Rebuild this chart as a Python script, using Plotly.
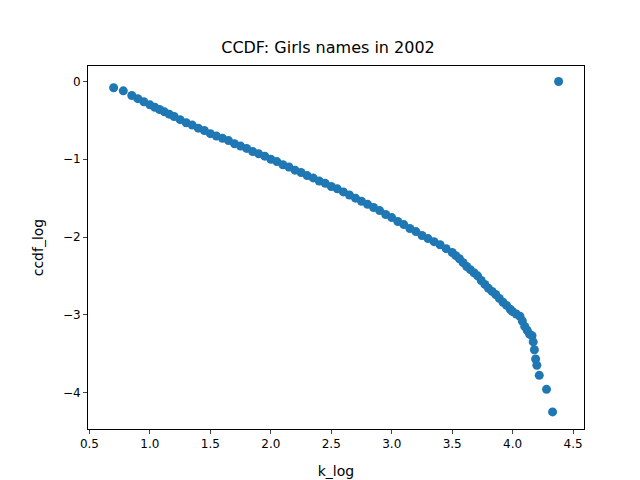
import plotly.graph_objects as go

# values
k_log = [0.70, 0.78, 0.85, 0.90, 0.95, 1.00, 1.04, 1.08, 1.12, 1.16, 1.20, 1.25, 1.30,
         1.35, 1.40, 1.45, 1.50, 1.55, 1.60, 1.65, 1.70, 1.75, 1.80, 1.85, 1.90, 1.95,
         2.00, 2.05, 2.10, 2.15, 2.20, 2.25, 2.30, 2.35, 2.40, 2.45, 2.50, 2.55, 2.60,
         2.65, 2.70, 2.75, 2.80, 2.85, 2.90, 2.95, 3.00, 3.05, 3.10, 3.15, 3.20, 3.25,
         3.30, 3.35, 3.40, 3.45, 3.50, 3.53, 3.56, 3.59, 3.62, 3.65, 3.68, 3.71, 3.74,
         3.77, 3.80, 3.83, 3.86, 3.89, 3.92, 3.95, 3.98, 4.00, 4.03, 4.06, 4.08, 4.10,
         4.12, 4.14, 4.16, 4.17, 4.18, 4.19, 4.20, 4.22, 4.28, 4.33, 4.38]
ccdf_log = [-0.08, -0.12, -0.18, -0.22, -0.26, -0.30, -0.33, -0.36, -0.39, -0.42, -0.45,
            -0.49, -0.53, -0.56, -0.60, -0.63, -0.67, -0.70, -0.73, -0.76, -0.80, -0.83,
            -0.86, -0.90, -0.93, -0.96, -1.00, -1.03, -1.07, -1.10, -1.14, -1.17, -1.21,
            -1.24, -1.28, -1.31, -1.35, -1.38, -1.42, -1.46, -1.50, -1.54, -1.58, -1.62,
            -1.66, -1.71, -1.75, -1.80, -1.84, -1.89, -1.93, -1.98, -2.02, -2.06, -2.10,
            -2.15, -2.20, -2.24, -2.28, -2.33, -2.38, -2.42, -2.46, -2.50, -2.56, -2.61,
            -2.66, -2.70, -2.74, -2.79, -2.84, -2.88, -2.93, -2.96, -2.99, -3.02, -3.08,
            -3.15, -3.20, -3.25, -3.27, -3.35, -3.45, -3.57, -3.65, -3.78, -3.96, -4.25,
            0.0]

fig = go.Figure()
fig.add_trace(go.Scatter(x=k_log, y=ccdf_log, mode='markers',
                         marker=dict(size=9, color='#1f77b4')))

fig.update_layout(
    title=dict(text="CCDF: Girls names in 2002", x=0.5, xanchor='center', y=0.93,
               font=dict(size=16, color='black')),
    width=640, height=480,
    margin=dict(l=80, r=64, t=58, b=53),
    plot_bgcolor='white', paper_bgcolor='white',
    font=dict(family='DejaVu Sans', size=12, color='black'),
    showlegend=False,
)
axis_style = dict(showline=True, linecolor='black', mirror=True, showgrid=False,
                  zeroline=False, ticks='outside', ticklen=4)
fig.update_xaxes(title_text='k_log', range=[0.488, 4.59], dtick=0.5, tickformat='.1f',
                 **axis_style)
fig.update_yaxes(title_text='ccdf_log', range=[-4.47, 0.2], dtick=1, **axis_style)

fig.write_html("out.html")
